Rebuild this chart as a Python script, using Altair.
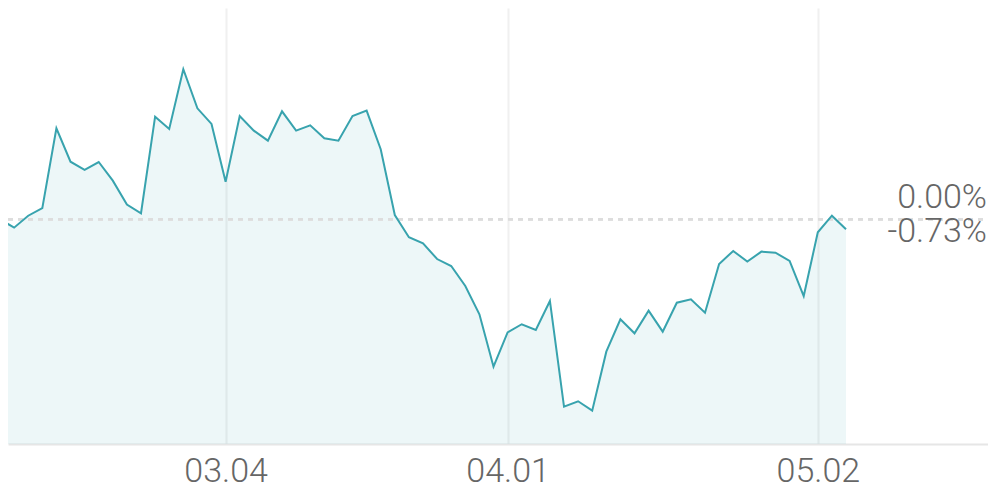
import altair as alt
import pandas as pd

# daily return vs. first day, in percent (one value per trading day)
returns_pct = [0.00, -0.61, 0.26, 0.82, 6.64, 4.20, 3.60, 4.18, 2.82, 1.07,
               0.44, 7.49, 6.59, 10.95, 8.10, 6.96, 2.74, 7.54, 6.47, 5.74,
               7.88, 6.47, 6.86, 5.91, 5.74, 7.54, 7.93, 5.11, 0.31, -1.31,
               -1.75, -2.90, -3.41, -4.87, -6.93, -10.76, -8.25, -7.66, -8.08, -5.96,
               -13.68, -13.28, -13.97, -9.66, -7.30, -8.32, -6.67, -8.20, -6.09, -5.84,
               -6.82, -3.26, -2.31, -3.09, -2.36, -2.44, -3.04, -5.60, -0.95, 0.26,
               -0.73]
tick_index = [16, 36, 58]
tick_labels = ["03.04", "04.01", "05.02"]
ref_labels = ["0.00%", "-0.73%"]
ref_values = [0.0, -0.73]

X_MIN, X_MAX = 0.567, 70.07
Y_MIN, Y_MAX = -16.40, 15.42

df = pd.DataFrame({"i": list(range(len(returns_pct))), "v": returns_pct})

label_map = "{" + ",".join(f"'{i}':'{t}'" for i, t in zip(tick_index, tick_labels)) + "}"

FONT = "Roboto"
TEAL = "#38a3ae"
GRAY = "#666666"

x_enc = alt.X("i:Q", scale=alt.Scale(domain=[X_MIN, X_MAX], nice=False, zero=False),
              axis=alt.Axis(values=tick_index, labelExpr=f"{label_map}[datum.value]",
                            title=None, grid=True, gridColor="#f0f0f0", gridWidth=2,
                            ticks=False, domainColor="#e6e6e6", domainWidth=2,
                            labelFont=FONT, labelFontSize=34, labelFontWeight=300,
                            labelColor=GRAY, labelPadding=10, labelFlush=False))
y_scale = alt.Scale(domain=[Y_MIN, Y_MAX], nice=False, zero=False)
y_enc = alt.Y("v:Q", scale=y_scale, axis=None)

area = alt.Chart(df).mark_area(color=TEAL, opacity=0.09, clip=True).encode(
    x=x_enc, y=y_enc, y2=alt.datum(Y_MIN))

line = alt.Chart(df).mark_line(color=TEAL, strokeWidth=2, clip=True).encode(
    x=alt.X("i:Q"), y=alt.Y("v:Q"))

zero_rule = alt.Chart(df).mark_rule(color="#dddddd", strokeWidth=2,
                                    strokeDash=[5, 5]).encode(
    y=alt.datum(ref_values[0], scale=y_scale), x=alt.value(0), x2=alt.value(980))

lab_top = alt.Chart(pd.DataFrame({"t": [ref_labels[0]]})).mark_text(
    align="right", baseline="alphabetic", dx=-1, dy=-11, font=FONT, fontSize=34,
    fontWeight=300, color=GRAY).encode(
    x=alt.datum(X_MAX), y=alt.datum(ref_values[0]), text="t:N")

lab_bot = alt.Chart(pd.DataFrame({"t": [ref_labels[1]]})).mark_text(
    align="right", baseline="alphabetic", dx=-1, dy=12.5, font=FONT, fontSize=34,
    fontWeight=300, color=GRAY).encode(
    x=alt.datum(X_MAX), y=alt.datum(ref_values[1]), text="t:N")

chart = alt.layer(area, zero_rule, line, lab_top, lab_bot).properties(
    width=980, height=436,
    autosize=alt.AutoSizeParams(type="none"),
    padding={"left": 0, "top": 0, "right": 0, "bottom": 46},
).configure_view(stroke=None)

chart.save("out.html", embed_options={"renderer": "svg", "actions": False})
